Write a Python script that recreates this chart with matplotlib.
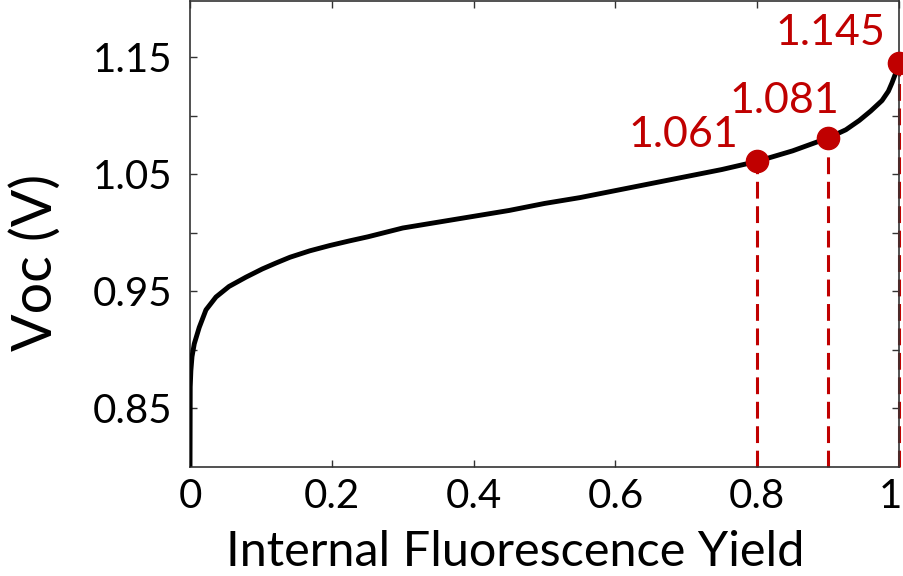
import matplotlib
matplotlib.use("Agg")
import matplotlib.pyplot as plt
import matplotlib.transforms as mtransforms

# curve
yield_int = [0.0, 0.0003, 0.0012, 0.0028, 0.006, 0.013, 0.0225, 0.0366, 0.055,
             0.079, 0.102, 0.121, 0.141, 0.169, 0.197, 0.225, 0.251, 0.3,
             0.34, 0.4, 0.45, 0.5, 0.55, 0.6, 0.65, 0.7, 0.75, 0.8, 0.85,
             0.9, 0.925, 0.944, 0.96, 0.976, 0.985, 0.99, 0.995, 1.0]
voc = [0.80, 0.868, 0.882, 0.894, 0.905, 0.919, 0.934, 0.945, 0.954,
       0.962, 0.969, 0.974, 0.979, 0.9845, 0.989, 0.993, 0.9965, 1.004,
       1.008, 1.014, 1.019, 1.025, 1.030, 1.036, 1.042, 1.048, 1.054, 1.061,
       1.070, 1.081, 1.088, 1.096, 1.104, 1.113, 1.121, 1.128, 1.136, 1.145]

# highlighted points
mark_x = [0.8, 0.9, 1.0]
mark_v = [1.061, 1.081, 1.145]
mark_labels = ["1.061", "1.081", "1.145"]
# label offsets in pixels (right edge, baseline) relative to the point
label_offsets = [(-19, 14), (11, 25), (-14, 18)]

x_ticks = [0, 0.2, 0.4, 0.6, 0.8, 1.0]
x_ticklabels = ["0", "0.2", "0.4", "0.6", "0.8", "1"]
y_major = [0.85, 0.95, 1.05, 1.15]
y_minor = [0.90, 1.00, 1.10]

RED = "#C00000"
plt.rcParams["font.family"] = ["Lato", "DejaVu Sans"]

fig = plt.figure(figsize=(9.04, 5.76), dpi=100)
ax = fig.add_axes([0.2102, 0.190, 0.7843, 0.808])

ax.plot(yield_int, voc, color="black", lw=3.5, solid_capstyle="butt",
        solid_joinstyle="round", zorder=3)

ax.vlines(mark_x, 0.80, mark_v, colors=RED, linestyles=(0, (5.5, 2.5)),
          lw=2.2, clip_on=False, zorder=2)
ax.plot(mark_x, mark_v, "o", color=RED, ms=16, clip_on=False, zorder=4)

for x, v, lab, (dx, dy) in zip(mark_x, mark_v, mark_labels, label_offsets):
    ax.annotate(lab, xy=(x, v), xytext=(dx, dy), textcoords="offset pixels",
                ha="right", va="baseline", color=RED, fontsize=31)

ax.set_xlim(0, 1)
ax.set_ylim(0.80, 1.198)
ax.set_xticks(x_ticks)
ax.set_xticklabels(x_ticklabels)
ax.set_yticks(y_major)
ax.set_yticklabels([f"{v:.2f}" for v in y_major])
ax.set_yticks(y_minor, minor=True)

ax.tick_params(which="both", direction="in", length=5, width=1,
               top=True, right=True, color="#333333")
ax.tick_params(axis="both", which="major", labelsize=29)
ax.tick_params(axis="x", pad=8)
ax.tick_params(axis="y", pad=13)

# the last x label sits at the figure edge, nudge it left a little
last = ax.get_xticklabels()[-1]
last.set_transform(last.get_transform() +
                   mtransforms.ScaledTranslation(-9 / 100, 0, fig.dpi_scale_trans))

for s in ax.spines.values():
    s.set_color("#333333")
    s.set_linewidth(1.2)

ax.set_xlabel("Internal Fluorescence Yield", fontsize=35, va="baseline")
ax.xaxis.set_label_coords(0.458, -0.2137)
ax.set_ylabel("Voc (V)", fontsize=40, va="center")
ax.yaxis.set_label_coords(-0.218, 0.438)

fig.savefig("out.png", dpi=100)
